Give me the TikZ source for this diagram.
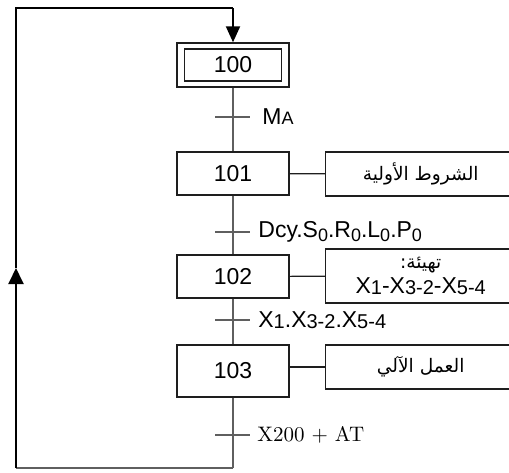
\documentclass[tikz,border=0pt]{standalone}
\usepackage{fontspec}
\usepackage{tikz}
\usetikzlibrary{arrows.meta,positioning,calc}
\TeXXeTstate=1
\newfontfamily\arialfont{Liberation Sans}
\newfontfamily\arabicfont[Script=Arabic]{DejaVu Sans}
\definecolor{linkgray}{RGB}{95,95,95}
\definecolor{inkbox}{RGB}{30,30,30}
\newcommand{\artxt}[1]{{\arabicfont\beginR #1\endR}}
\newcommand{\lowidx}[1]{\raisebox{-0.3ex}{\fontsize{9}{9}\selectfont #1}}
\newcommand{\smidx}[1]{\raisebox{-0.1ex}{\fontsize{10}{10}\selectfont #1}}

\begin{document}
\begin{tikzpicture}[x=0.5pt,y=-0.5pt,
  stepbox/.style={draw=inkbox,line width=0.7pt,minimum width=56pt,minimum height=21.5pt,
    inner sep=0pt,font=\arialfont\fontsize{11.5}{12}\selectfont},
  actbox/.style={draw=inkbox,line width=0.7pt,minimum width=95pt,minimum height=22pt,
    inner sep=0pt,anchor=west,align=center,font=\fontsize{9.3}{11}\selectfont},
  link/.style={linkgray,line width=0.6pt},
  ret/.style={black,line width=1pt},
  tick/.style={linkgray,line width=0.6pt},
  trlabel/.style={anchor=west,inner sep=0pt,font=\arialfont\fontsize{11.5}{12}\selectfont}]
  \useasboundingbox (0,0) rectangle (509,472);
  \clip (0,0) rectangle (509,472);
  % steps on the main line
  \node[stepbox,minimum height=22pt] (s100) at (233,65) {};
  \node[stepbox,minimum width=48.5pt,minimum height=16pt] (s100in) at (233,65) {100};
  \node[stepbox] (s101) at (233,173.5) {101};
  \node[stepbox] (s102) at (233,276.5) {102};
  \node[stepbox,minimum height=26pt] (s103) at (233,371) {103};
  % actions (open towards the right edge)
  \node[actbox] (a101) at (325,174) {\artxt{الشروط الأولية}};
  \node[actbox,minimum height=27pt] (a102) at (325,276)
    {\artxt{تهيئة:}\\[1.5pt]{\arialfont\fontsize{11.5}{12}\selectfont X\smidx{1}-X\smidx{3-2}-X\smidx{5-4}}};
  \node[actbox] (a103) at (325,367) {\artxt{العمل الآلي}};
  \draw[link,inkbox] (s101) -- (a101);
  \draw[link,inkbox] (s102) -- (a102);
  \draw[link,inkbox] (s103.east |- a103) -- (a103);
  % links and transitions
  \coordinate (t1) at (233,117);
  \coordinate (t2) at (233,232);
  \coordinate (t3) at (233,320);
  \coordinate (t4) at (233,435);
  \draw[link] (s100) -- (s101);
  \draw[link] (s101) -- (s102);
  \draw[link] (s102) -- (s103);
  \foreach \t in {t1,t2,t3,t4}
    \draw[tick] ($(\t)+(-18,0)$) -- ($(\t)+(17,0)$);
  \node[trlabel] (l1) at (262,117) {M{\fontsize{9}{9}\selectfont A}};
  \node[trlabel] (l2) at (258,232) {Dcy.S\lowidx{0}.R\lowidx{0}.L\lowidx{0}.P\lowidx{0}};
  \node[trlabel] (l3) at (258,320) {X\smidx{1}.X\smidx{3-2}.X\smidx{5-4}};
  \node[trlabel,font=\fontsize{10.5}{12}\selectfont] (l4) at (257,435) {X200 + AT};
  % return loop back to the initial step
  \coordinate (cbot) at (233,468);
  \coordinate (cleft) at (16,268);
  \coordinate (ctop) at (233,8);
  \draw[link] (s103) -- (cbot);
  \draw[link] (cbot) -- (16,468);
  \draw[ret,-{Triangle[length=8pt,width=7.5pt]}] (16,468) -- (cleft);
  \draw[ret] (cleft) |- (ctop);
  \draw[ret,-{Triangle[length=8pt,width=7pt]}] (ctop) -- (s100.north);
\end{tikzpicture}
\end{document}
